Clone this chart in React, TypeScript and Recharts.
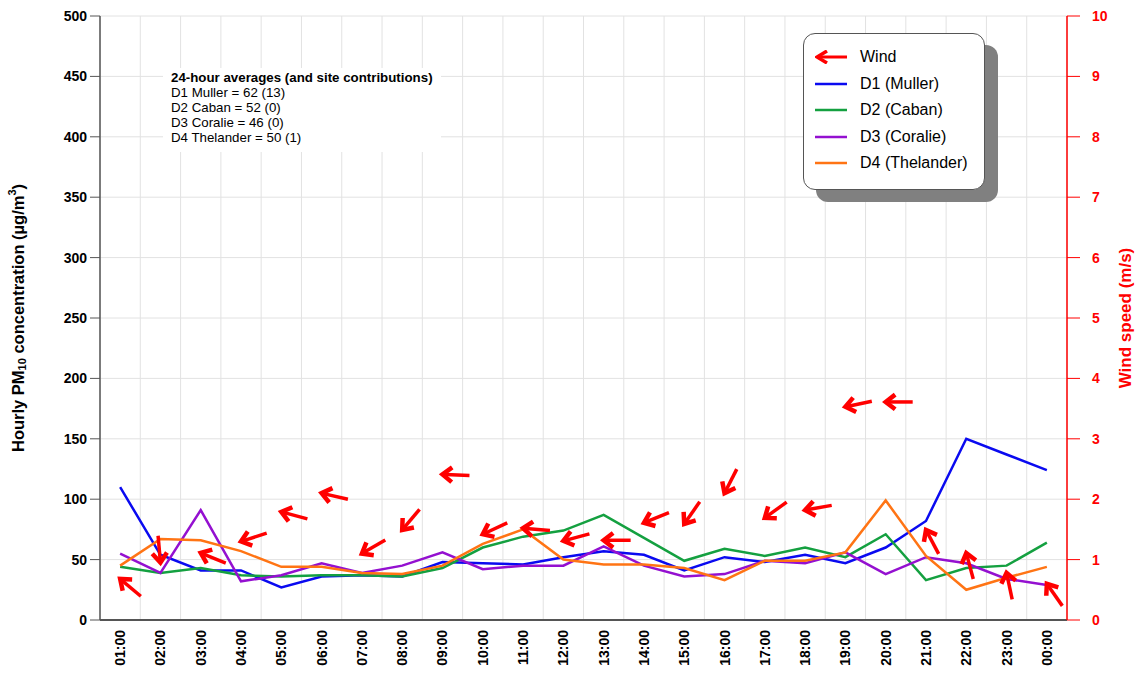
import React from 'react'
import {
  ComposedChart,
  Line,
  Scatter,
  XAxis,
  YAxis,
  CartesianGrid,
  Legend,
} from 'recharts'

const hours = [
  '01:00', '02:00', '03:00', '04:00', '05:00', '06:00', '07:00', '08:00',
  '09:00', '10:00', '11:00', '12:00', '13:00', '14:00', '15:00', '16:00',
  '17:00', '18:00', '19:00', '20:00', '21:00', '22:00', '23:00', '00:00',
]

// hourly PM10 (ug/m3) per site
const muller = [110, 54, 41, 41, 27, 36, 37, 36, 48, 47, 46, 52, 57, 54, 41, 52, 48, 54, 47, 60, 82, 150, 137, 124]
const caban = [44, 39, 43, 37, 36, 37, 37, 36, 43, 60, 69, 74, 87, 68, 49, 59, 53, 60, 52, 71, 33, 43, 45, 64]
const coralie = [55, 39, 91, 32, 37, 47, 39, 45, 56, 42, 45, 45, 61, 45, 36, 38, 49, 47, 56, 38, 52, 47, 34, 29]
const thelander = [45, 67, 66, 57, 44, 44, 39, 38, 45, 63, 75, 50, 46, 46, 43, 33, 49, 49, 56, 99, 53, 25, 35, 44]

// wind speed (m/s) and the direction the arrow points (deg, 0 = up, clockwise)
const windSpeed = [0.68, 0.95, 1.11, 1.3, 1.79, 2.1, 1.1, 1.49, 2.41, 1.42, 1.52, 1.31, 1.32, 1.61, 1.59, 2.1, 1.69, 1.82, 3.53, 3.61, 1.49, 1.11, 0.78, 0.6]
const windDir = [310, 175, 292, 252, 285, 283, 240, 220, 272, 245, 275, 255, 270, 248, 215, 207, 234, 260, 258, 270, 332, 345, 348, 325]

const pmTicks = [0, 50, 100, 150, 200, 250, 300, 350, 400, 450, 500]
const windTicks = [0, 1, 2, 3, 4, 5, 6, 7, 8, 9, 10]

const averages = [
  'D1 Muller = 62 (13)',
  'D2 Caban = 52 (0)',
  'D3 Coralie = 46 (0)',
  'D4 Thelander = 50 (1)',
]

const series = [
  { key: 'd1', name: 'D1 (Muller)', color: '#0a0af0' },
  { key: 'd2', name: 'D2 (Caban)', color: '#14a040' },
  { key: 'd3', name: 'D3 (Coralie)', color: '#9410d0' },
  { key: 'd4', name: 'D4 (Thelander)', color: '#ff7414' },
]

const data = hours.map((h, idx) => ({
  i: idx + 1,
  hour: h,
  d1: muller[idx],
  d2: caban[idx],
  d3: coralie[idx],
  d4: thelander[idx],
  speed: windSpeed[idx],
  dir: windDir[idx],
}))

const FONT = '"Liberation Sans", Arial, Helvetica, sans-serif'
const WIND = '#ff0000'

const WindArrow = (props: any) => {
  const { cx, cy, payload } = props
  if (cx == null || cy == null) return null
  const a = (payload.dir * Math.PI) / 180
  const ux = Math.sin(a)
  const uy = -Math.cos(a)
  const L = 27
  const H = 12
  const s = 0.66
  const bx = -ux
  const by = -uy
  const w1x = cx + H * (bx * Math.cos(s) - by * Math.sin(s))
  const w1y = cy + H * (bx * Math.sin(s) + by * Math.cos(s))
  const w2x = cx + H * (bx * Math.cos(-s) - by * Math.sin(-s))
  const w2y = cy + H * (bx * Math.sin(-s) + by * Math.cos(-s))
  return (
    <g>
      <line x1={cx - ux * L} y1={cy - uy * L} x2={cx - ux * 3} y2={cy - uy * 3} stroke={WIND} strokeWidth={3.5} />
      <polyline
        points={`${w1x},${w1y} ${cx},${cy} ${w2x},${w2y}`}
        fill="none"
        stroke={WIND}
        strokeWidth={4.5}
        strokeLinejoin="miter"
      />
    </g>
  )
}

const HourTick = (props: any) => {
  const { x, y, payload } = props
  const label = hours[payload.value - 1]
  return (
    <text
      x={x}
      y={y}
      transform={`rotate(-90, ${x}, ${y})`}
      textAnchor="end"
      dominantBaseline="central"
      fontFamily={FONT}
      fontSize={14}
      fontWeight="bold"
      fill="#000"
    >
      {label}
    </text>
  )
}

const PmLabel = (props: any) => {
  const vb = props.viewBox || { x: 40, y: 16, width: 60, height: 604 }
  const x = vb.x - 22
  const y = vb.y + vb.height / 2
  return (
    <text
      x={x}
      y={y}
      transform={`rotate(-90, ${x}, ${y})`}
      textAnchor="middle"
      dominantBaseline="central"
      fontFamily={FONT}
      fontSize={16.5}
      fontWeight="bold"
      fill="#000"
    >
      Hourly PM
      <tspan dy={4} fontSize={11}>10</tspan>
      <tspan dy={-4}> concentration (µg/m</tspan>
      <tspan dy={-6} fontSize={11}>3</tspan>
      <tspan dy={6}>)</tspan>
    </text>
  )
}

const WindLabel = (props: any) => {
  const vb = props.viewBox || { x: 1067, y: 16, width: 50, height: 604 }
  const x = vb.x + 58
  const y = vb.y + vb.height / 2
  return (
    <text
      x={x}
      y={y}
      transform={`rotate(-90, ${x}, ${y})`}
      textAnchor="middle"
      dominantBaseline="central"
      fontFamily={FONT}
      fontSize={17}
      fontWeight="bold"
      fill={WIND}
    >
      Wind speed (m/s)
    </text>
  )
}

const LegendBox = () => (
  <div
    style={{
      width: 182,
      height: 157,
      boxSizing: 'border-box',
      paddingTop: 10,
      background: '#fff',
      border: '1px solid #555',
      borderRadius: 12,
      boxShadow: '13px 12px 0 #808080',
      fontFamily: FONT,
      fontSize: 16,
      color: '#000',
    }}
  >
    <div style={{ display: 'flex', alignItems: 'center', height: 26.5 }}>
      <svg width={32} height={14} style={{ marginLeft: 11, marginRight: 13 }}>
        <line x1={4} y1={7} x2={32} y2={7} stroke={WIND} strokeWidth={3} />
        <polyline points="12,1 2,7 12,13" fill="none" stroke={WIND} strokeWidth={3.5} />
      </svg>
      <span>Wind</span>
    </div>
    {series.map((s) => (
      <div key={s.key} style={{ display: 'flex', alignItems: 'center', height: 26.5 }}>
        <svg width={32} height={4} style={{ marginLeft: 11, marginRight: 13 }}>
          <line x1={0} y1={2} x2={32} y2={2} stroke={s.color} strokeWidth={2.5} />
        </svg>
        <span>{s.name}</span>
      </div>
    ))}
  </div>
)

const gridX = (props: any) => {
  const off = props && props.offset ? props.offset : { left: 100, width: 967 }
  const out: number[] = []
  for (let k = 0; k <= hours.length; k++) out.push(off.left + (k * off.width) / hours.length)
  return out
}

export default function App() {
  return (
    <div style={{ position: 'absolute', left: 0, top: 0, width: 1141, height: 681, background: '#fff' }}>
      <ComposedChart
        width={1141}
        height={681}
        data={data}
        margin={{ top: 16, right: 24, bottom: 6, left: 40 }}
      >
        <CartesianGrid
          yAxisId="pm"
          stroke="#e2e2e2"
          strokeWidth={1}
          verticalCoordinatesGenerator={gridX}
        />
        <XAxis
          dataKey="i"
          type="number"
          domain={[0.5, 24.5]}
          ticks={data.map((d) => d.i)}
          interval={0}
          height={55}
          tick={<HourTick />}
          tickLine={false}
          tickMargin={4}
          axisLine={{ stroke: '#555', strokeWidth: 2 }}
        />
        <YAxis
          yAxisId="pm"
          orientation="left"
          width={60}
          domain={[0, 500]}
          ticks={pmTicks}
          interval={0}
          tickSize={10}
          tickMargin={3}
          tick={{ fill: '#000', fontSize: 14, fontWeight: 'bold', fontFamily: FONT }}
          tickLine={{ stroke: '#555' }}
          axisLine={{ stroke: '#555', strokeWidth: 1.5 }}
          label={<PmLabel />}
        />
        <YAxis
          yAxisId="wind"
          orientation="right"
          width={50}
          domain={[0, 10]}
          ticks={windTicks}
          interval={0}
          tickSize={13}
          tickMargin={12}
          tick={{ fill: WIND, fontSize: 14, fontWeight: 'bold', fontFamily: FONT }}
          tickLine={{ stroke: WIND }}
          axisLine={{ stroke: WIND, strokeWidth: 1.5 }}
          label={<WindLabel />}
        />
        {series.map((s) => (
          <Line
            key={s.key}
            yAxisId="pm"
            type="linear"
            dataKey={s.key}
            name={s.name}
            stroke={s.color}
            strokeWidth={2.5}
            dot={false}
            activeDot={false}
            isAnimationActive={false}
          />
        ))}
        <Scatter
          yAxisId="wind"
          dataKey="speed"
          name="Wind"
          shape={<WindArrow />}
          isAnimationActive={false}
        />
        <Legend
          layout="horizontal"
          verticalAlign="middle"
          align="center"
          content={<LegendBox />}
          wrapperStyle={{ left: 803, top: 33, width: 182 }}
        />
      </ComposedChart>
      <div
        style={{
          position: 'absolute',
          left: 163,
          top: 68,
          width: 278,
          height: 84,
          boxSizing: 'border-box',
          padding: '2px 0 0 8px',
          background: '#fff',
          fontFamily: FONT,
          fontSize: 13.3,
          lineHeight: '15px',
          color: '#000',
        }}
      >
        <div style={{ fontWeight: 'bold' }}>24-hour averages (and site contributions)</div>
        {averages.map((t) => (
          <div key={t}>{t}</div>
        ))}
      </div>
    </div>
  )
}
